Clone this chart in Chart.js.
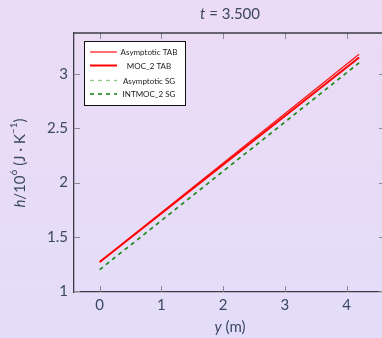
<!DOCTYPE html>
<html>
<head>
<meta charset="utf-8">
<script src="https://cdn.jsdelivr.net/npm/chart.js@4"></script>
<style>
  html, body { margin: 0; padding: 0; overflow: hidden; }
  body {
    width: 382px; height: 338px;
    background: linear-gradient(to bottom, #ecdbf5, #e3ddf9);
  }
  #wrap { width: 392px; height: 338px; }
</style>
</head>
<body>
<div id="wrap"><canvas id="hChart" width="392" height="338"></canvas></div>
<script>
// data
const yPos = [0, 4.2];
const asymTab = [1.27, 3.18];
const moc2Tab = [1.27, 3.15];
const asymSg = [1.20, 3.10];
const intmocSg = [1.20, 3.10];

const seriesNames = ['Asymptotic TAB', 'MOC_2 TAB', 'Asymptotic SG', 'INTMOC_2 SG'];
const xTicks = [0, 1, 2, 3, 4];
const yTicks = [1, 1.5, 2, 2.5, 3];

const FONT = 'Lato, "DejaVu Sans", sans-serif';
const TEXT = '#3b4861';

function pts(vals) {
    return vals.map((v, i) => ({ x: yPos[i], y: v }));
}

// frame, inner ticks, titles and legend (pgfplots look)
const decorations = {
    id: 'decorations',
    afterDraw(chart) {
        const ctx = chart.ctx;
        const a = chart.chartArea;
        const xs = chart.scales.x, ys = chart.scales.y;
        ctx.save();

        // inner tick marks
        ctx.strokeStyle = '#8a8a92';
        ctx.lineWidth = 1;
        ctx.beginPath();
        xTicks.forEach(t => {
            const px = Math.round(xs.getPixelForValue(t)) + 0.5;
            ctx.moveTo(px, a.top); ctx.lineTo(px, a.top + 6);
            ctx.moveTo(px, a.bottom); ctx.lineTo(px, a.bottom - 6);
        });
        yTicks.forEach(t => {
            const py = Math.round(ys.getPixelForValue(t)) + 0.5;
            ctx.moveTo(a.left, py); ctx.lineTo(a.left + 6, py);
            ctx.moveTo(a.right, py); ctx.lineTo(a.right - 6, py);
        });
        ctx.stroke();

        // top and right border
        ctx.strokeStyle = '#3c3c46';
        ctx.lineWidth = 1.3;
        ctx.beginPath();
        ctx.moveTo(a.left, a.top); ctx.lineTo(a.right, a.top); ctx.lineTo(a.right, a.bottom);
        ctx.stroke();

        // title: t = 3.500
        ctx.fillStyle = TEXT;
        ctx.textBaseline = 'middle';
        ctx.font = 'italic 15px ' + FONT;
        const w1 = ctx.measureText('t').width;
        ctx.font = '15px ' + FONT;
        const w2 = ctx.measureText(' = 3.500').width;
        let tx = 230 - (w1 + w2) / 2;
        ctx.textAlign = 'left';
        ctx.font = 'italic 15px ' + FONT;
        ctx.fillText('t', tx, 14);
        ctx.font = '15px ' + FONT;
        ctx.fillText(' = 3.500', tx + w1, 14);

        // x axis title: y (m)
        ctx.font = 'italic 15px ' + FONT;
        const w3 = ctx.measureText('y').width;
        ctx.font = '15px ' + FONT;
        const w4 = ctx.measureText(' (m)').width;
        tx = 230 - (w3 + w4) / 2;
        ctx.font = 'italic 15px ' + FONT;
        ctx.fillText('y', tx, 327);
        ctx.font = '15px ' + FONT;
        ctx.fillText(' (m)', tx + w3, 327);

        // y axis title: h/10^6 (J · K^-1)
        ctx.save();
        ctx.translate(20, 163);
        ctx.rotate(-Math.PI / 2);
        const parts = [
            { t: 'h', f: 'italic 15px ', dy: 0 },
            { t: '/10', f: '15px ', dy: 0 },
            { t: '6', f: '10px ', dy: -6 },
            { t: ' (J · K', f: '15px ', dy: 0 },
            { t: '−1', f: '10px ', dy: -6 },
            { t: ')', f: '15px ', dy: 0 }
        ];
        let total = 0;
        parts.forEach(p => { ctx.font = p.f + FONT; p.w = ctx.measureText(p.t).width; total += p.w; });
        let cx = -total / 2;
        parts.forEach(p => {
            ctx.font = p.f + FONT;
            ctx.fillText(p.t, cx, p.dy);
            cx += p.w;
        });
        ctx.restore();

        // legend
        const lx = 84.5, ly = 41.5, lw = 101, lh = 64;
        ctx.fillStyle = '#ffffff';
        ctx.fillRect(lx, ly, lw, lh);
        ctx.strokeStyle = '#111111';
        ctx.lineWidth = 1;
        ctx.setLineDash([]);
        ctx.strokeRect(lx, ly, lw, lh);
        const rows = [52, 65.5, 80.5, 94];
        chart.data.datasets.forEach((ds, i) => {
            ctx.strokeStyle = ds.borderColor;
            ctx.lineWidth = ds.borderWidth;
            ctx.setLineDash(ds.borderDash || []);
            ctx.beginPath();
            ctx.moveTo(90, rows[i]); ctx.lineTo(117, rows[i]);
            ctx.stroke();
            ctx.setLineDash([]);
            ctx.fillStyle = '#1a1a1a';
            ctx.font = '8px ' + FONT;
            ctx.textAlign = 'center';
            ctx.fillText(ds.label, 149, rows[i] + 0.5);
        });
        ctx.restore();
    }
};

new Chart(document.getElementById('hChart').getContext('2d'), {
    type: 'line',
    data: {
        datasets: [
            { label: seriesNames[0], data: pts(asymTab), borderColor: '#ff1010', borderWidth: 1.2, order: 2 },
            { label: seriesNames[1], data: pts(moc2Tab), borderColor: '#ff0000', borderWidth: 2, order: 1 },
            { label: seriesNames[2], data: pts(asymSg), borderColor: '#86c686', borderWidth: 1.3, borderDash: [4, 4], order: 4 },
            { label: seriesNames[3], data: pts(intmocSg), borderColor: '#1f8a1f', borderWidth: 1.6, borderDash: [4, 4], order: 3 }
        ]
    },
    options: {
        responsive: false,
        animation: false,
        devicePixelRatio: 1,
        layout: { padding: { top: 33, right: 7, left: 0, bottom: 0 } },
        elements: { point: { radius: 0 }, line: { tension: 0 } },
        plugins: { legend: { display: false }, title: { display: false }, tooltip: { enabled: false } },
        scales: {
            x: {
                type: 'linear',
                min: -0.416,
                max: 4.62,
                afterFit: s => { s.height = 46; },
                grid: { display: false, drawTicks: false },
                border: { display: true, color: '#3c3c46', width: 1.3 },
                ticks: {
                    stepSize: 1, includeBounds: false, padding: 4,
                    color: TEXT, font: { family: FONT, size: 15 }
                }
            },
            y: {
                type: 'linear',
                min: 0.995,
                max: 3.375,
                afterFit: s => { s.width = 74; },
                grid: { display: false, drawTicks: false },
                border: { display: true, color: '#3c3c46', width: 1.3 },
                ticks: {
                    stepSize: 0.5, includeBounds: false, padding: 6,
                    color: TEXT, font: { family: FONT, size: 15 },
                    callback: v => String(Math.round(v * 10) / 10)
                }
            }
        }
    },
    plugins: [decorations]
});
</script>
</body>
</html>
